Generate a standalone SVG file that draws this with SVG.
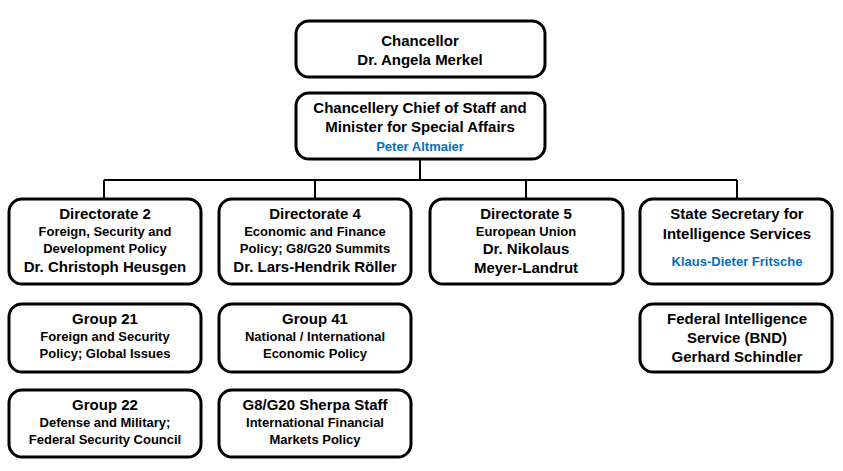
<svg xmlns="http://www.w3.org/2000/svg" width="843" height="471" viewBox="0 0 843 471">
<style>
.b{fill:#fff;stroke:#000;stroke-width:3}
text{font-family:"Liberation Sans",Arial,sans-serif;font-weight:bold;text-anchor:middle;fill:#000}
.t{font-size:15px}.s{font-size:13px}.bl{fill:#0070c0}
.c{stroke:#000;stroke-width:2;fill:none}
</style>
<rect width="843" height="471" fill="#fff"/>
<g id="connectors">
<path class="c" d="M420 159V180M104 180H737M104 180V199M315 180V199M526 180V199M737 180V199"/>
</g>
<g id="chancellor"><rect class="b" x="296" y="21" width="249" height="56" rx="13"/>
<text class="t" x="420" y="46">Chancellor</text><text class="t" x="420" y="65">Dr. Angela Merkel</text></g>
<g id="chief"><rect class="b" x="296" y="93" width="249" height="66" rx="13"/>
<text class="t" x="420" y="113">Chancellery Chief of Staff and</text><text class="t" x="420" y="132">Minister for Special Affairs</text><text class="s bl" x="420" y="151">Peter Altmaier</text></g>
<g id="dir2"><rect class="b" x="9" y="199" width="192" height="85" rx="13"/>
<text class="t" x="105" y="219">Directorate 2</text><text class="s" x="105" y="236">Foreign, Security and</text><text class="s" x="105" y="253">Development Policy</text><text class="t" x="105" y="272">Dr. Christoph Heusgen</text></g>
<g id="dir4"><rect class="b" x="219" y="199" width="192" height="85" rx="13"/>
<text class="t" x="315" y="219">Directorate 4</text><text class="s" x="315" y="236">Economic and Finance</text><text class="s" x="315" y="253">Policy; G8/G20 Summits</text><text class="t" x="315" y="272">Dr. Lars-Hendrik Röller</text></g>
<g id="dir5"><rect class="b" x="430" y="199" width="193" height="85" rx="13"/>
<text class="t" x="526" y="219">Directorate 5</text><text class="s" x="526" y="236">European Union</text><text class="t" x="526" y="254">Dr. Nikolaus</text><text class="t" x="526" y="273">Meyer-Landrut</text></g>
<g id="stsec"><rect class="b" x="640" y="199" width="192" height="85" rx="13"/>
<text class="t" x="737" y="219">State Secretary for</text><text class="t" x="737" y="239">Intelligence Services</text><text class="s bl" x="737" y="266">Klaus-Dieter Fritsche</text></g>
<g id="g21"><rect class="b" x="9" y="304" width="192" height="68" rx="13"/>
<text class="t" x="105" y="324">Group 21</text><text class="s" x="105" y="341">Foreign and Security</text><text class="s" x="105" y="358">Policy; Global Issues</text></g>
<g id="g41"><rect class="b" x="219" y="304" width="192" height="68" rx="13"/>
<text class="t" x="315" y="324">Group 41</text><text class="s" x="315" y="341">National / International</text><text class="s" x="315" y="358">Economic Policy</text></g>
<g id="bnd"><rect class="b" x="640" y="304" width="192" height="68" rx="13"/>
<text class="t" x="737" y="324">Federal Intelligence</text><text class="t" x="737" y="343">Service (BND)</text><text class="t" x="737" y="362">Gerhard Schindler</text></g>
<g id="g22"><rect class="b" x="9" y="390" width="192" height="67" rx="13"/>
<text class="t" x="105" y="410">Group 22</text><text class="s" x="105" y="427">Defense and Military;</text><text class="s" x="105" y="444">Federal Security Council</text></g>
<g id="sherpa"><rect class="b" x="219" y="390" width="192" height="67" rx="13"/>
<text class="t" x="315" y="410">G8/G20 Sherpa Staff</text><text class="s" x="315" y="427">International Financial</text><text class="s" x="315" y="444">Markets Policy</text></g>
</svg>
